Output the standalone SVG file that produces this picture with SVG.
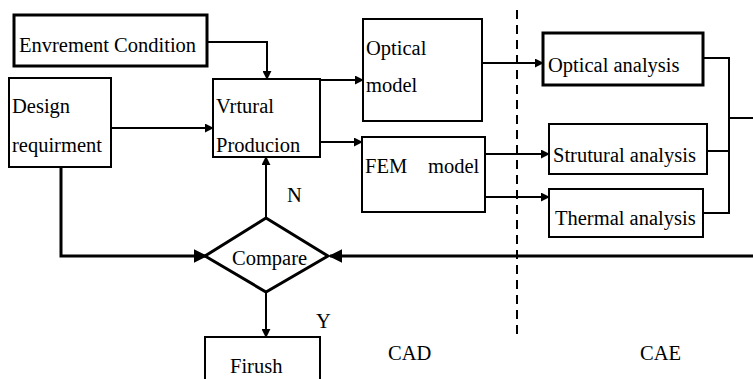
<svg xmlns="http://www.w3.org/2000/svg" width="753" height="379" viewBox="0 0 753 379">
<style>
text{font-family:'Liberation Serif','Times New Roman',Times,serif;font-size:20.5px;fill:#000}
.b{fill:#fff;stroke:#000;stroke-width:2}
.bt{fill:#fff;stroke:#000;stroke-width:3}
.c{fill:none;stroke:#000;stroke-width:2}
.ct{fill:none;stroke:#000;stroke-width:3}
</style>
<defs>
<marker id="ah" viewBox="0 0 10 10" refX="9" refY="5" markerWidth="4.5" markerHeight="4.5" orient="auto" markerUnits="strokeWidth">
<path d="M0,0 L10,5 L0,10 Z" fill="#000"/>
</marker>
</defs>
<rect width="753" height="379" fill="#fff"/>
<g id="connectors">
<path class="c" d="M207,42 H267 V79" marker-end="url(#ah)"/>
<path class="c" d="M111,128 H213" marker-end="url(#ah)"/>
<path class="c" d="M320,80 H363" marker-end="url(#ah)"/>
<path class="c" d="M320,142 H362" marker-end="url(#ah)"/>
<path class="c" d="M482,63 H543" marker-end="url(#ah)"/>
<path class="c" d="M485,154 H549" marker-end="url(#ah)"/>
<path class="c" d="M485,197 H549" marker-end="url(#ah)"/>
<path class="c" d="M703,58 H729 V213 H703 M707,151 H729 M729,118 H753"/>
<path class="ct" d="M753,256 H330" marker-end="url(#ah)"/>
<path class="ct" d="M61,167 V256 H206" marker-end="url(#ah)"/>
<path class="c" d="M266,218 V157" marker-end="url(#ah)"/>
<path class="c" d="M266,292 V337" marker-end="url(#ah)"/>
<path d="M517,10 V337" fill="none" stroke="#000" stroke-width="2" stroke-dasharray="9,6"/>
</g>
<g id="env"><rect class="bt" x="14" y="15" width="193" height="51"/><text x="19" y="52">Envrement Condition</text></g>
<g id="design"><rect class="b" x="9" y="78" width="102" height="89"/><text x="12" y="113">Design</text><text x="12" y="152">requirment</text></g>
<g id="virtual"><rect class="b" x="213" y="79" width="107" height="78"/><text x="216" y="113">Vrtural</text><text x="216" y="152">Producion</text></g>
<g id="optical-model"><rect class="b" x="363" y="19" width="119" height="102"/><text x="366" y="55">Optical</text><text x="366" y="92">model</text></g>
<g id="fem-model"><rect class="b" x="362" y="137" width="123" height="75"/><text x="365" y="173">FEM</text><text x="428" y="173">model</text></g>
<g id="optical-analysis"><rect class="bt" x="543" y="33" width="160" height="52"/><text x="548" y="72">Optical analysis</text></g>
<g id="structural-analysis"><rect class="b" x="549" y="124" width="158" height="50"/><text x="553" y="162">Strutural analysis</text></g>
<g id="thermal-analysis"><rect class="b" x="549" y="189" width="154" height="48"/><text x="555" y="225">Thermal analysis</text></g>
<g id="compare"><path class="ct" d="M266,218 L328,256 L266,292 L205,256 Z" fill="#fff"/><text x="232" y="265">Compare</text></g>
<g id="finish"><rect class="b" x="205" y="337" width="115" height="44"/><text x="230" y="373">Firush</text></g>
<text x="287" y="202">N</text>
<text x="316" y="328">Y</text>
<text x="388" y="360">CAD</text>
<text x="640" y="360">CAE</text>
</svg>
